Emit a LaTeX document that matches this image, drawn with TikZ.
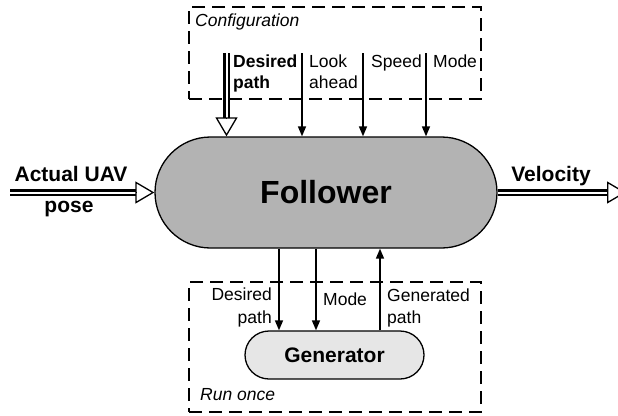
\documentclass[tikz,border=0pt]{standalone}
\usepackage{fontspec}
\setmainfont{Liberation Sans}
\usetikzlibrary{arrows.meta,shapes.misc}
\definecolor{folfill}{HTML}{B3B3B3}
\definecolor{genfill}{HTML}{E6E6E6}
\begin{document}
\begin{tikzpicture}[x=1pt,y=-1pt,
  lbl/.style={inner sep=0pt, font=\fontsize{17.5}{21}\selectfont},
  blbl/.style={inner sep=0pt, font=\bfseries\fontsize{17.5}{21}\selectfont},
  biglbl/.style={inner sep=0pt, font=\bfseries\fontsize{21}{24}\selectfont},
  ilbl/.style={inner sep=0pt, font=\itshape\fontsize{17.5}{21}\selectfont},
  dashbox/.style={draw, line width=1.3pt, dash pattern=on 13pt off 7pt, inner sep=0pt},
  arr/.style={line width=1.5pt, -{Triangle[length=10pt,width=8pt]}},
  dbl/.style={double, double distance=2pt, line width=2.2pt},
  opentip/.style={line width=1.3pt, -{Triangle[open,length=19pt,width=22pt]}},
  procbox/.style={draw, rounded rectangle, line width=1.3pt, inner sep=0pt},
]
\useasboundingbox (0,0) rectangle (618,415);

% dashed group boxes
\node[dashbox, minimum width=292pt, minimum height=92pt] (cfg) at (335,53) {};
\node[dashbox, minimum width=292pt, minimum height=130pt] (run) at (335,347) {};
\node[ilbl, anchor=base west] (cfglbl) at (195,27) {Configuration};
\node[ilbl, anchor=base west] (runlbl) at (200,400) {Run once};

% processes
\node[procbox, fill=folfill, minimum width=342pt, minimum height=111pt,
      font=\bfseries\fontsize{32}{36}\selectfont] (fol) at (326,192.5) {Follower};
\node[procbox, fill=genfill, minimum width=179pt, minimum height=48pt,
      font=\bfseries\fontsize{21}{24}\selectfont] (gen) at (334.5,355) {Generator};

% left input
\coordinate (inL) at (10,192.5);
\coordinate (inB) at (136,192.5);
\draw[dbl] (inL) -- (inB);
\draw[opentip] (inB) -- (fol.west);
\node[biglbl, anchor=base] (inlbl1) at (71,181) {Actual UAV};
\node[biglbl, anchor=base] (inlbl2) at (69,212) {pose};

% right output
\coordinate (outB) at (607,192.5);
\coordinate (outT) at (626,192.5);
\draw[dbl] (fol.east) -- (outB);
\draw[opentip] (outB) -- (outT);
\node[biglbl, anchor=base] (outlbl) at (551,181) {Velocity};

% top inputs
\coordinate (dpS) at (226.5,53);
\coordinate (dpB) at (226.5,118);
\draw[dbl] (dpS) -- (dpB);
\draw[opentip] (dpB) -- (fol.north -| dpB);
\node[blbl, anchor=base west] (dp1) at (233,67) {Desired};
\node[blbl, anchor=base west] (dp2) at (233,88) {path};

\coordinate (laS) at (302,53);
\draw[arr] (laS) -- (fol.north -| laS);
\node[lbl, anchor=base west] (la1) at (309,67) {Look};
\node[lbl, anchor=base west] (la2) at (309,88) {ahead};

\coordinate (spS) at (363,53);
\draw[arr] (spS) -- (fol.north -| spS);
\node[lbl, anchor=base west] (sp) at (371,67) {Speed};

\coordinate (moS) at (426,53);
\draw[arr] (moS) -- (fol.north -| moS);
\node[lbl, anchor=base west] (mo) at (433,67) {Mode};

% bottom links
\coordinate (bdp) at (279,248);
\draw[arr] (fol.south -| bdp) -- (gen.north -| bdp);
\node[lbl, anchor=base east] (bdp1) at (272,300.5) {Desired};
\node[lbl, anchor=base east] (bdp2) at (272,323) {path};

\coordinate (bmo) at (316,248);
\draw[arr] (fol.south -| bmo) -- (gen.north -| bmo);
\node[lbl, anchor=base west] (bmol) at (323,305) {Mode};

\coordinate (bgp) at (380,248);
\draw[arr] (gen.north -| bgp) -- (fol.south -| bgp);
\node[lbl, anchor=base west] (bgp1) at (387,301.5) {Generated};
\node[lbl, anchor=base west] (bgp2) at (387,323) {path};
\end{tikzpicture}
\end{document}
